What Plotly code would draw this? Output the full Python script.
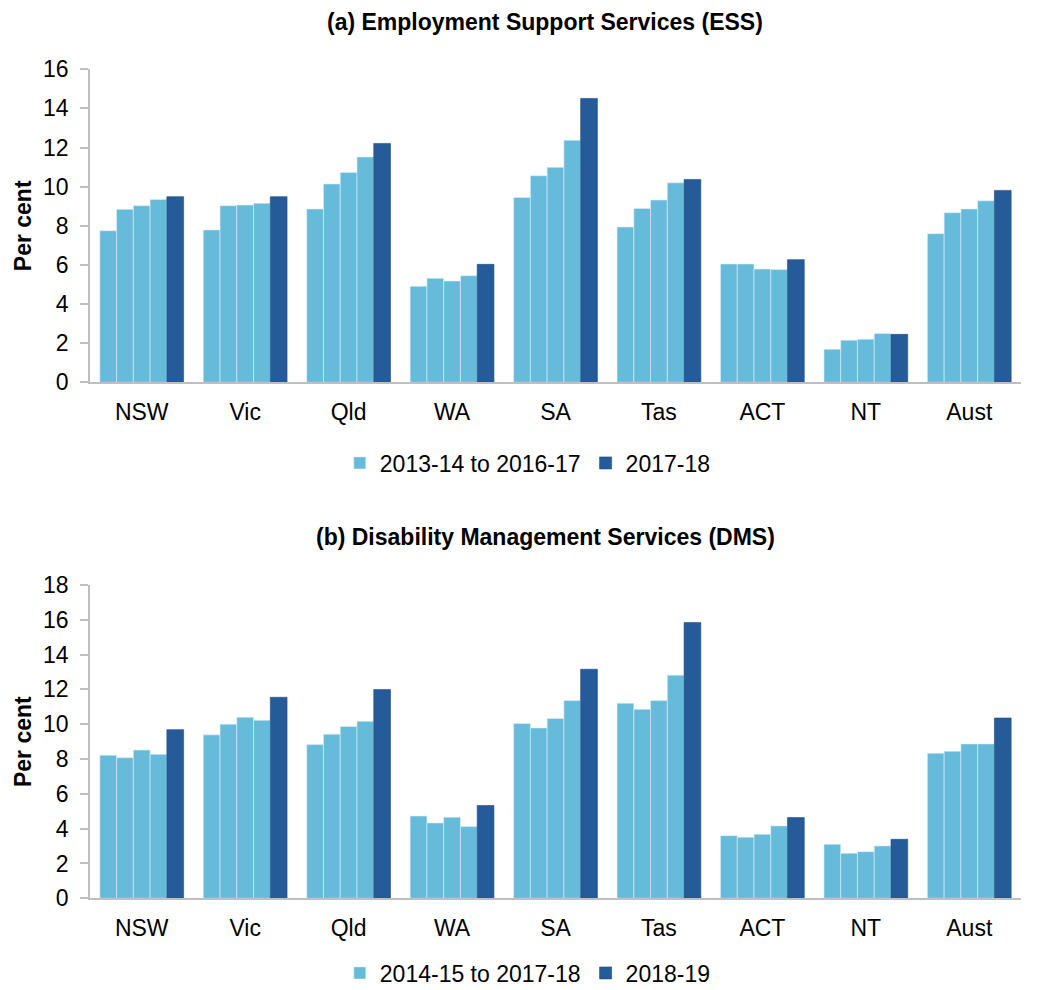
import plotly.graph_objects as go

categories = ["NSW", "Vic", "Qld", "WA", "SA", "Tas", "ACT", "NT", "Aust"]

# (a) Employment Support Services (ESS)
ess_2013_14 = [7.75, 7.79, 8.86, 4.91, 9.45, 7.94, 6.05, 1.69, 7.60]
ess_2014_15 = [8.84, 9.03, 10.14, 5.32, 10.56, 8.89, 6.05, 2.15, 8.67]
ess_2015_16 = [9.03, 9.06, 10.73, 5.18, 10.99, 9.32, 5.79, 2.20, 8.86]
ess_2016_17 = [9.35, 9.15, 11.52, 5.45, 12.37, 10.20, 5.76, 2.50, 9.28]
ess_2017_18 = [9.49, 9.49, 12.21, 6.03, 14.51, 10.37, 6.27, 2.45, 9.81]

# (b) Disability Management Services (DMS)
dms_2014_15 = [8.22, 9.39, 8.83, 4.73, 10.04, 11.21, 3.60, 3.10, 8.33]
dms_2015_16 = [8.08, 10.00, 9.43, 4.33, 9.79, 10.86, 3.51, 2.59, 8.45]
dms_2016_17 = [8.52, 10.40, 9.87, 4.66, 10.33, 11.36, 3.68, 2.68, 8.87]
dms_2017_18 = [8.27, 10.23, 10.17, 4.12, 11.36, 12.82, 4.16, 3.01, 8.87]
dms_2018_19 = [9.69, 11.55, 11.99, 5.33, 13.16, 15.84, 4.64, 3.39, 10.36]

legend_a = ["2013-14 to 2016-17", "2017-18"]
legend_b = ["2014-15 to 2017-18", "2018-19"]
title_a = "(a) Employment Support Services (ESS)"
title_b = "(b) Disability Management Services (DMS)"

LIGHT = "#67BBDA"
DARK = "#265B9A"
FONT = "Liberation Sans, Arial, sans-serif"
FS = 23

fig = go.Figure()


def add_panel(series_light, series_dark, names, xa, ya, legend):
    for i, s in enumerate(series_light):
        fig.add_trace(go.Bar(
            x=categories, y=s, name=names[0], legendgroup=legend + "light",
            showlegend=(i == 0), marker=dict(color=LIGHT, line=dict(color="#DDEFF7", width=0.6)),
            xaxis=xa, yaxis=ya, legend=legend, offsetgroup=str(i),
        ))
    fig.add_trace(go.Bar(
        x=categories, y=series_dark, name=names[1], legendgroup=legend + "dark",
        marker=dict(color=DARK, line=dict(color="#1F4E86", width=0.6)),
        xaxis=xa, yaxis=ya, legend=legend, offsetgroup="4",
    ))


add_panel([ess_2013_14, ess_2014_15, ess_2015_16, ess_2016_17], ess_2017_18, legend_a, "x", "y", "legend")
add_panel([dms_2014_15, dms_2015_16, dms_2016_17, dms_2017_18], dms_2018_19, legend_b, "x2", "y2", "legend2")

W, H = 1039, 990
x0, x1 = 90 / W, 1021 / W

axis_x = dict(showline=True, linecolor="#BFBFBF", linewidth=1.5, ticks="", automargin=False,
              ticklabelstandoff=8,
              tickfont=dict(family=FONT, size=FS, color="black"), showgrid=False, zeroline=False)
axis_y = dict(showline=True, linecolor="#BFBFBF", linewidth=1.5, ticks="outside", automargin=False,
              ticklen=8, tickwidth=1.5, tickcolor="#BFBFBF", ticklabelstandoff=7,
              tickfont=dict(family=FONT, size=FS, color="black"),
              showgrid=False, zeroline=False,
              title=dict(text="<b>Per cent</b>", font=dict(family=FONT, size=FS, color="black"), standoff=5))

fig.update_layout(
    template="none",
    width=W, height=H,
    margin=dict(l=0, r=0, t=0, b=0, autoexpand=False),
    paper_bgcolor="white", plot_bgcolor="white",
    barmode="group", bargap=0.19, bargroupgap=0,
    font=dict(family=FONT, color="black"),
    xaxis=dict(axis_x, domain=[x0, x1], anchor="y"),
    yaxis=dict(axis_y, domain=[(H - 382.3) / H, (H - 69.3) / H], range=[0, 16], dtick=2, anchor="x"),
    xaxis2=dict(axis_x, domain=[x0, x1], anchor="y2"),
    yaxis2=dict(axis_y, domain=[(H - 898.3) / H, (H - 585) / H], range=[0, 18], dtick=2, anchor="x2"),
    legend=dict(orientation="h", x=0.508, xanchor="center", y=(H - 463) / H, yanchor="middle",
                font=dict(family=FONT, size=FS, color="black"), itemwidth=30, traceorder="normal",
                bgcolor="rgba(0,0,0,0)"),
    legend2=dict(orientation="h", x=0.508, xanchor="center", y=(H - 973) / H, yanchor="middle",
                 font=dict(family=FONT, size=FS, color="black"), itemwidth=30, traceorder="normal",
                 bgcolor="rgba(0,0,0,0)"),
    annotations=[
        dict(text="<b>" + title_a + "</b>", x=0.525, y=(H - 22) / H, xref="paper", yref="paper",
             xanchor="center", yanchor="middle",
             showarrow=False, font=dict(family=FONT, size=FS, color="black")),
        dict(text="<b>" + title_b + "</b>", x=0.525, y=(H - 537) / H, xref="paper", yref="paper",
             xanchor="center", yanchor="middle",
             showarrow=False, font=dict(family=FONT, size=FS, color="black")),
    ],
)

fig.write_html("out.html", config={"displayModeBar": False},
               post_script="document.body.style.margin='0';document.body.style.padding='0';")
